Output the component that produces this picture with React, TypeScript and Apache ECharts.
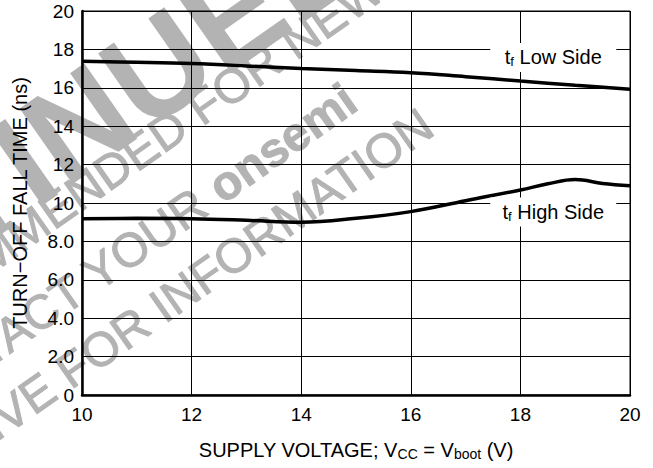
import React, { useEffect, useRef } from 'react';
import * as echarts from 'echarts';

const xMin = 10;
const xMax = 20;
const xInterval = 2;
const yMin = 0;
const yMax = 20;
const yInterval = 2;

const lowSideX = [10, 11, 12, 13, 14, 15, 16, 17, 18, 19, 20];
const lowSideY = [17.38, 17.33, 17.26, 17.14, 17.0, 16.9, 16.79, 16.58, 16.35, 16.13, 15.93];

const highSideX = [10, 11, 12, 13, 14, 15, 16, 17, 18, 18.5, 19, 19.5, 20];
const highSideY = [9.18, 9.2, 9.18, 9.1, 9.0, 9.2, 9.55, 10.12, 10.68, 11.0, 11.22, 11.02, 10.9];

const seriesNames = ['Low Side', 'High Side'];
const seriesLabels = ['t{s|f} Low Side', 't{s|f} High Side'];
const labelAnchors = [
  [18.6, 17.58],
  [18.6, 9.53],
];

const xAxisName = 'SUPPLY VOLTAGE; V{s|CC} = V{s|boot} (V)';
const yAxisName = 'TURN\u2212OFF FALL TIME (ns)';

const watermarkLines = [
  'DISCONTINUED',
  'NOT RECOMMENDED FOR NEW DESIGN',
  'CONTACT YOUR {b|onsemi}',
  'REPRESENTATIVE FOR INFORMATION',
];

const FONT = '"Liberation Sans", Arial, Helvetica, sans-serif';

export default function App() {
  const ref = useRef<HTMLDivElement>(null);

  useEffect(() => {
    if (!ref.current) return;
    const chart = echarts.init(ref.current, null, { renderer: 'svg' });

    const zip = (xs: number[], ys: number[]) => xs.map((x, i) => [x, ys[i]]);
    const wmColor = '#b3b3b3';
    const rot = (35 * Math.PI) / 180;
    const wmCenters: [number, number, number, string][] = [
      [-68, 226, 134, 'bold'],
      [156, 139, 48, 'normal'],
      [121, 256, 48, 'normal'],
      [65, 374, 48, 'normal'],
    ];

    const subRich = {
      s: { fontSize: 13, fontFamily: FONT, color: '#000', lineHeight: 12, verticalAlign: 'bottom' },
    };

    const makeLabel = (i: number) => ({
      coord: labelAnchors[i],
      symbol: 'rect',
      symbolSize: [126, 29],
      itemStyle: { color: '#ffffff' },
      label: {
        show: true,
        position: 'inside',
        formatter: seriesLabels[i],
        color: '#000',
        fontSize: 20,
        fontFamily: FONT,
        lineHeight: 22,
        rich: subRich,
      },
    });

    chart.setOption({
      animation: false,
      backgroundColor: '#ffffff',
      grid: {
        left: 82,
        right: 23,
        top: 11,
        bottom: 73,
        show: true,
        borderColor: '#000',
        borderWidth: 1,
      },
      graphic: {
        elements: wmCenters.map((c, i) => ({
          type: 'text',
          x: c[0],
          y: c[1],
          rotation: rot,
          z: -10,
          silent: true,
          style: {
            text: watermarkLines[i],
            fill: wmColor,
            stroke: wmColor,
            lineWidth: c[3] === 'bold' ? 0 : 1,
            fontSize: c[2],
            fontWeight: c[3],
            fontFamily: FONT,
            align: 'center',
            verticalAlign: 'middle',
            textAlign: 'center',
            textVerticalAlign: 'middle',
            rich: {
              b: { fontSize: 48, fontWeight: 'bold', fontFamily: FONT, fill: wmColor, color: wmColor },
            },
          },
        })),
      },
      xAxis: {
        type: 'value',
        min: xMin,
        max: xMax,
        interval: xInterval,
        name: xAxisName,
        nameLocation: 'middle',
        nameGap: 44,
        nameTextStyle: {
          color: '#000',
          fontSize: 20,
          fontFamily: FONT,
          lineHeight: 22,
          rich: { s: { fontSize: 14, fontFamily: FONT, color: '#000', lineHeight: 12, verticalAlign: 'bottom' } },
        },
        axisLine: { show: true, lineStyle: { color: '#000', width: 2.5 } },
        axisTick: { show: false },
        axisLabel: { color: '#000', fontSize: 19, fontFamily: FONT, margin: 10 },
        splitLine: { show: true, lineStyle: { color: '#000', width: 1 } },
      },
      yAxis: {
        type: 'value',
        min: yMin,
        max: yMax,
        interval: yInterval,
        name: yAxisName,
        nameLocation: 'middle',
        nameGap: 52,
        nameTextStyle: { color: '#000', fontSize: 20, fontFamily: FONT },
        axisLine: { show: true, lineStyle: { color: '#000', width: 2.5 } },
        axisTick: { show: false },
        axisLabel: {
          color: '#000',
          fontSize: 19,
          fontFamily: FONT,
          margin: 8,
          formatter: (v: number) => (v >= 10 || v === 0 ? String(v) : v.toFixed(1)),
        },
        splitLine: { show: true, lineStyle: { color: '#000', width: 1 } },
      },
      series: [
        {
          name: seriesNames[0],
          type: 'line',
          data: zip(lowSideX, lowSideY),
          smooth: 0.4,
          showSymbol: false,
          lineStyle: { color: '#000', width: 3.5 },
          markPoint: { silent: true, data: [makeLabel(0)] },
        },
        {
          name: seriesNames[1],
          type: 'line',
          data: zip(highSideX, highSideY),
          smooth: 0.4,
          showSymbol: false,
          lineStyle: { color: '#000', width: 3.5 },
          markPoint: { silent: true, data: [makeLabel(1)] },
        },
      ],
    });

    return () => chart.dispose();
  }, []);

  return (
    <div
      ref={ref}
      style={{ position: 'fixed', left: 0, top: 0, width: 653, height: 468, background: '#fff' }}
    />
  );
}
